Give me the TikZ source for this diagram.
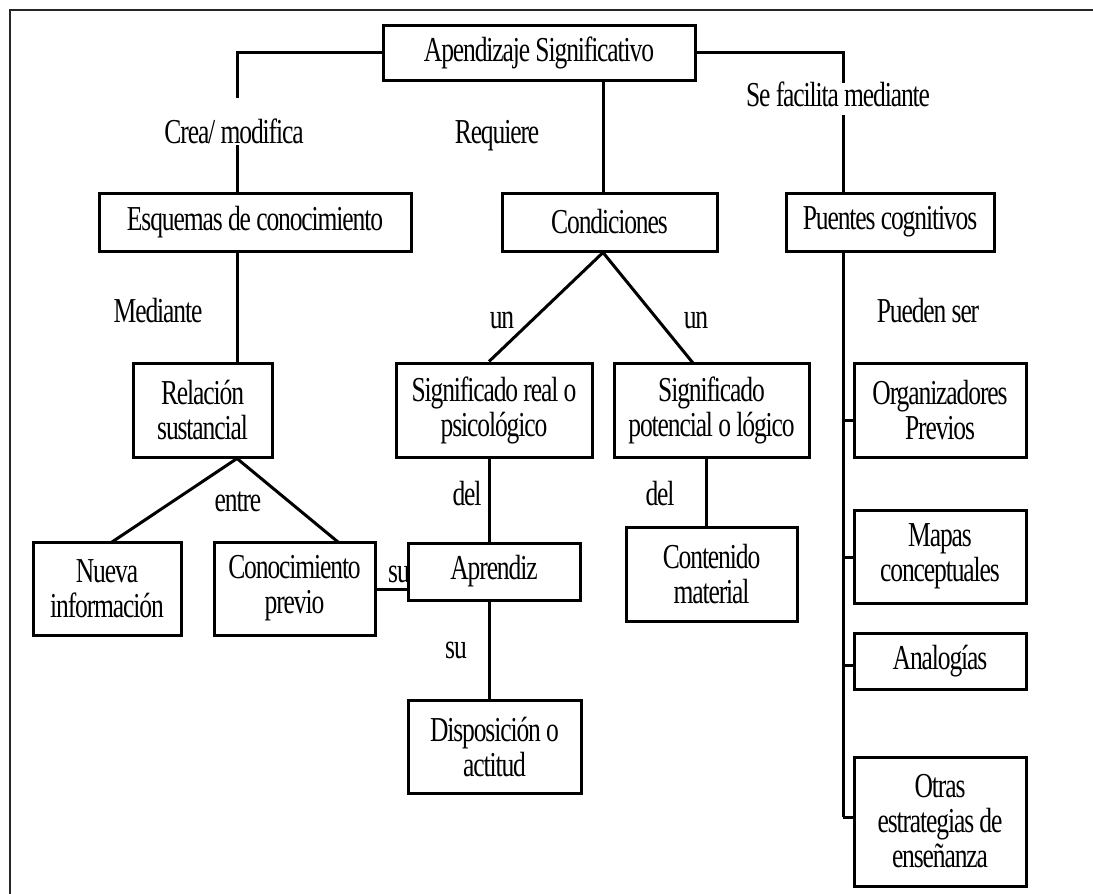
\documentclass[tikz,border=0pt]{standalone}
\usepackage{fontspec}
\setmainfont{Liberation Serif}[FakeStretch=0.73,LetterSpace=-3.2]
\begin{document}
\begin{tikzpicture}[x=1pt,y=-1pt,
  txt/.style={font=\fontsize{35}{35}\selectfont},
  cbox/.style={txt,draw,line width=3pt,fill=white,inner sep=0pt,align=center},
  lbl/.style={txt,inner sep=0pt,anchor=base},
  link/.style={line width=3pt},
  frame/.style={line width=1.5pt,black!85}]
\useasboundingbox (0,0) rectangle (1093,894);

% outer frame (top and left edges)
\draw[frame] (1093,10) -- (10,10) -- (10,894);

% labels on the connectors
\node[lbl] (lcrea) at (234,143) {Crea/ modifica};
\node[lbl] (lreq)  at (497,143) {Requiere};
\node[lbl] (lfac)  at (838,106) {Se facilita mediante};
\node[lbl] (lmed)  at (158,322) {Mediante};
\node[lbl] (lun1)  at (502,328) {un};
\node[lbl] (lun2)  at (696,328) {un};
\node[lbl] (lpue)  at (928,322) {Pueden ser};
\node[lbl] (lent)  at (238,511) {entre};
\node[lbl] (ldel1) at (467,505) {del};
\node[lbl] (ldel2) at (660,505) {del};
\node[lbl,anchor=base east] (lsu1) at (410,582) {su};
\node[lbl] (lsu2)  at (456,658) {su};

% concepts
\node[cbox,minimum width=312pt,minimum height=55pt] (ap) at (539,52.5) {Apendizaje Significativo};
\node[cbox,minimum width=312pt,minimum height=58pt] (esq) at (255,222) {Esquemas de conocimiento};
\node[cbox,minimum width=215pt,minimum height=58pt] (cond) at (609.5,222) {Condiciones};
\node[cbox,minimum width=208pt,minimum height=58pt] (puen) at (890,222) {Puentes cognitivos};
\node[cbox,minimum width=139pt,minimum height=94pt] (rel) at (202.5,410) {Relación\\sustancial};
\node[cbox,minimum width=196pt,minimum height=94pt] (sreal) at (494,410) {Significado real o\\psicológico};
\node[cbox,minimum width=195pt,minimum height=94pt] (spot) at (711.5,410) {Significado\\potencial o lógico};
\node[cbox,minimum width=172pt,minimum height=94pt] (org) at (940,410) {Organizadores\\Previos};
\node[cbox,minimum width=148pt,minimum height=93pt] (nueva) at (107,588.5) {Nueva\\información};
\node[cbox,minimum width=161pt,minimum height=93pt] (conoc) at (294.5,588.5) {Conocimiento\\previo};
\node[cbox,minimum width=172pt,minimum height=57pt] (aprz) at (494,571.5) {Aprendiz};
\node[cbox,minimum width=171pt,minimum height=94pt] (cont) at (711.5,574) {Contenido\\material};
\node[cbox,minimum width=172pt,minimum height=93pt] (mapas) at (940,556.5) {Mapas\\conceptuales};
\node[cbox,minimum width=173pt,minimum height=93pt] (disp) at (494.5,746.5) {Disposición o\\actitud};
\node[cbox,minimum width=172pt,minimum height=56pt] (analog) at (940,661) {Analogías};
\node[cbox,minimum width=172pt,minimum height=129pt] (otras) at (940,821.5) {Otras\\estrategias de\\enseñanza};

% line ends around the labels
\coordinate (a1) at (237,98);
\coordinate (a2) at (237,145);
\coordinate (r1) at (843,83);
\coordinate (r2) at (843,115);
\coordinate (m) at (603,0);
\coordinate (s) at (489,0);
\coordinate (rv) at (843,817);

% connectors
\draw[link] (ap.west |- 0,52) -| (a1);
\draw[link] (a2) -- (a2 |- esq.north);
\draw[link] (ap.south -| m) -- (cond.north -| m);
\draw[link] (ap.east |- 0,52) -| (r1);
\draw[link] (r2) -- (r2 |- puen.north);

\draw[link] (esq.south -| a1) -- (rel.north -| a1);
\draw[link] (112,542) -- (rel.south -| a1) -- (338,542);

\draw[link] (sreal.north -| s) -- (cond.south -| m) -- (693,363);
\draw[link] (sreal.south -| s) -- (aprz.north -| s);
\draw[link] (aprz.south -| s) -- (disp.north -| s);
\draw[link] (conoc.east |- 0,589) -- (aprz.west |- 0,589);
\draw[link] (spot.south -| 706,0) -- (cont.north -| 706,0);

\draw[link] (puen.south -| r1) -- (rv);
\draw[link] (843,420) -- (org.west |- 0,420);
\draw[link] (843,557) -- (mapas.west |- 0,557);
\draw[link] (843,665) -- (analog.west |- 0,665);
\draw[link] (rv) -- (otras.west |- rv);
\end{tikzpicture}
\end{document}
